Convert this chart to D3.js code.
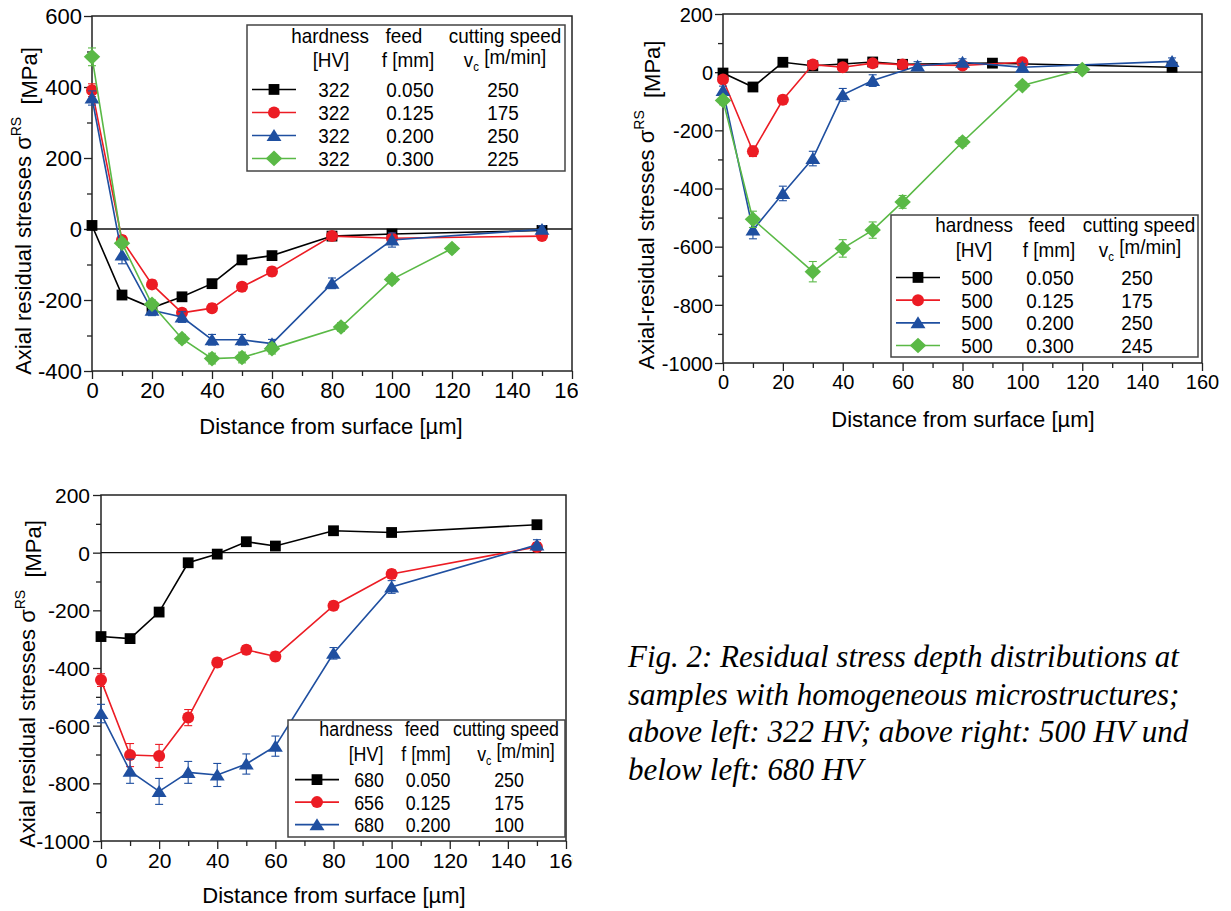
<!DOCTYPE html>
<html><head><meta charset="utf-8">
<script src="https://cdn.jsdelivr.net/npm/d3@7"></script>
<style>
html,body{margin:0;padding:0;background:#fff;}
svg text{font-family:Arial,"Liberation Sans",sans-serif;fill:#000;}
.cap{font-family:"Times New Roman","Liberation Serif",serif;font-style:italic;}
</style></head>
<body>
<svg id="chart" width="1231" height="911"></svg>
<script>
// ---------- data ----------
const seriesColors = ["#000000", "#ec1c24", "#1f4fa0", "#5ab946"];
const seriesShapes = ["square", "circle", "triangle", "diamond"];
const xTickValues = [0, 20, 40, 60, 80, 100, 120, 140, 160];
const p1YTicks = [-400, -200, 0, 200, 400, 600];
const p23YTicks = [-1000, -800, -600, -400, -200, 0, 200];

// Panel 1: 322 HV
const p1Hardness = ["322", "322", "322", "322"];
const p1Feed = ["0.050", "0.125", "0.200", "0.300"];
const p1Speed = ["250", "175", "250", "225"];
const p1DepthA = [0, 10, 20, 30, 40, 50, 60, 80, 100, 150];
const p1StressA = [10, -186, -222, -191, -154, -87, -75, -20, -14, -4];
const p1ErrA = [8, 10, 10, 10, 10, 10, 10, 8, 8, 8];
const p1DepthB = [0, 10, 20, 30, 40, 50, 60, 80, 100, 150];
const p1StressB = [391, -31, -156, -236, -223, -163, -120, -20, -26, -20];
const p1ErrB = [18, 12, 12, 12, 12, 12, 12, 10, 10, 10];
const p1DepthC = [0, 10, 20, 30, 40, 50, 60, 80, 100, 150];
const p1StressC = [369, -73, -229, -248, -312, -312, -323, -153, -31, -1];
const p1ErrC = [20, 25, 15, 15, 15, 15, 12, 15, 20, 10];
const p1DepthD = [0, 10, 20, 30, 40, 50, 60, 83, 100, 120];
const p1StressD = [485, -40, -212, -309, -365, -362, -337, -276, -142, -55];
const p1ErrD = [25, 12, 12, 12, 15, 15, 15, 12, 12, 10];

// Panel 2: 500 HV
const p2Hardness = ["500", "500", "500", "500"];
const p2Feed = ["0.050", "0.125", "0.200", "0.300"];
const p2Speed = ["250", "175", "250", "245"];
const p2DepthA = [0, 10, 20, 30, 40, 50, 60, 90, 150];
const p2StressA = [-3, -51, 34, 22, 28, 35, 27, 31, 17];
const p2ErrA = [10, 12, 10, 10, 10, 10, 10, 10, 10];
const p2DepthB = [0, 10, 20, 30, 40, 50, 60, 80, 100];
const p2StressB = [-25, -272, -95, 26, 17, 31, 26, 23, 34];
const p2ErrB = [12, 18, 15, 12, 12, 12, 12, 12, 12];
const p2DepthC = [0, 10, 20, 30, 40, 50, 65, 80, 100, 150];
const p2StressC = [-63, -543, -417, -297, -78, -29, 21, 34, 17, 37];
const p2ErrC = [15, 30, 25, 25, 22, 20, 15, 12, 12, 12];
const p2DepthD = [0, 10, 30, 40, 50, 60, 80, 100, 120];
const p2StressD = [-97, -506, -686, -606, -543, -446, -240, -46, 9];
const p2ErrD = [15, 28, 35, 30, 28, 22, 15, 12, 12];

// Panel 3: 680 / 656 HV
const p3Hardness = ["680", "656", "680"];
const p3Feed = ["0.050", "0.125", "0.200"];
const p3Speed = ["250", "175", "100"];
const p3DepthA = [0, 10, 20, 30, 40, 50, 60, 80, 100, 150];
const p3StressA = [-291, -298, -206, -35, -5, 38, 23, 76, 70, 97];
const p3ErrA = [10, 10, 10, 10, 10, 10, 10, 10, 10, 10];
const p3DepthB = [0, 10, 20, 30, 40, 50, 60, 80, 100, 150];
const p3StressB = [-442, -702, -705, -572, -381, -337, -360, -184, -74, 20];
const p3ErrB = [22, 40, 40, 28, 15, 15, 15, 15, 15, 15];
const p3DepthC = [0, 10, 20, 30, 40, 50, 60, 80, 100, 150];
const p3StressC = [-558, -758, -828, -762, -771, -733, -671, -349, -119, 27];
const p3ErrC = [32, 42, 45, 38, 40, 35, 35, 20, 22, 18];

const captionLines = [
  "Fig. 2: Residual stress depth distributions at",
  "samples with homogeneous microstructures;",
  "above left: 322 HV; above right: 500 HV und",
  "below left: 680 HV"
];

// ---------- drawing ----------
const svg = d3.select("#chart");
const defs = svg.append("defs");

function symbolPath(shape, s) {
  if (shape === "square") return `M${-s},${-s}H${s}V${s}H${-s}Z`;
  if (shape === "circle") return d3.symbol(d3.symbolCircle, Math.PI * (s + 0.6) * (s + 0.6))();
  if (shape === "triangle") { const h = s * 1.2; return `M0,${-h}L${h * 1.15},${h * 0.85}L${-h * 1.15},${h * 0.85}Z`; }
  if (shape === "diamond") { const h = s * 1.45; return `M0,${-h}L${h * 1.05},0L0,${h}L${-h * 1.05},0Z`; }
}

function drawPanel(cfg) {
  const g = svg.append("g");
  if (cfg.clipX) {
    const id = "clip" + cfg.id;
    defs.append("clipPath").attr("id", id).append("rect")
      .attr("x", 0).attr("y", cfg.top - 30).attr("width", cfg.clipX).attr("height", 480);
    g.attr("clip-path", `url(#${id})`);
  }
  const x = d3.scaleLinear().domain([0, 160]).range([cfg.left, cfg.right]);
  const y = d3.scaleLinear().domain(cfg.yDomain).range([cfg.bottom, cfg.top]);
  const minorX = d3.range(10, 160, 20);
  const minorY = d3.range(cfg.yDomain[0] + 100, cfg.yDomain[1], 200);

  g.append("g").attr("transform", `translate(0,${cfg.bottom})`)
    .call(d3.axisBottom(x).tickValues(minorX).tickSize(5).tickFormat(""))
    .call(a => a.select(".domain").remove());
  g.append("g").attr("transform", `translate(${cfg.left},0)`)
    .call(d3.axisLeft(y).tickValues(minorY).tickSize(5).tickFormat(""))
    .call(a => a.select(".domain").remove());

  const xa = g.append("g").attr("transform", `translate(0,${cfg.bottom})`)
    .call(d3.axisBottom(x).tickValues(xTickValues).tickSize(8).tickFormat(d3.format("d")));
  xa.select(".domain").remove();
  xa.selectAll("text").attr("y", cfg.xLabelOff).attr("dy", 0)
    .style("font-size", cfg.tickFont + "px").attr("fill", "#000");
  const ya = g.append("g").attr("transform", `translate(${cfg.left},0)`)
    .call(d3.axisLeft(y).tickValues(cfg.yTicks).tickSize(8).tickFormat(d => d < 0 ? "-" + Math.abs(d) : d));
  ya.select(".domain").remove();
  ya.selectAll("text").attr("x", -cfg.yLabelOff).attr("dy", "0.36em")
    .style("font-size", cfg.tickFont + "px").attr("fill", "#000");
  g.selectAll(".tick line").attr("stroke", "#222").attr("stroke-width", 1.3);

  g.append("rect").attr("x", cfg.left).attr("y", cfg.top)
    .attr("width", cfg.right - cfg.left).attr("height", cfg.bottom - cfg.top)
    .attr("fill", "none").attr("stroke", "#222").attr("stroke-width", 1.5);
  g.append("line").attr("x1", cfg.left).attr("x2", cfg.right)
    .attr("y1", y(0)).attr("y2", y(0)).attr("stroke", "#111").attr("stroke-width", 1.3);

  cfg.series.forEach((s, i) => {
    const pts = s.x.map((d, k) => ({ x: d, y: s.y[k], e: s.e[k] }));
    const col = seriesColors[i];
    const sg = g.append("g");
    sg.append("path").datum(pts)
      .attr("d", d3.line().x(d => x(d.x)).y(d => y(d.y)))
      .attr("fill", "none").attr("stroke", col).attr("stroke-width", 1.6);
    const eb = sg.selectAll("g.eb").data(pts).join("g").attr("class", "eb");
    eb.append("line").attr("x1", d => x(d.x)).attr("x2", d => x(d.x))
      .attr("y1", d => y(d.y - d.e)).attr("y2", d => y(d.y + d.e))
      .attr("stroke", col).attr("stroke-width", 1.1);
    [-1, 1].forEach(sgn => {
      eb.append("line").attr("x1", d => x(d.x) - 4).attr("x2", d => x(d.x) + 4)
        .attr("y1", d => y(d.y + sgn * d.e)).attr("y2", d => y(d.y + sgn * d.e))
        .attr("stroke", col).attr("stroke-width", 1.1);
    });
    sg.selectAll("path.m").data(pts).join("path").attr("class", "m")
      .attr("d", symbolPath(seriesShapes[i], 5.4))
      .attr("transform", d => `translate(${x(d.x)},${y(d.y)})`)
      .attr("fill", col);
  });

  const L = cfg.legend;
  const lg = g.append("g");
  lg.append("rect").attr("x", L.x0).attr("y", L.y0).attr("width", L.x1 - L.x0).attr("height", L.y1 - L.y0)
    .attr("fill", "#fff").attr("stroke", "#444").attr("stroke-width", 1.5);
  const txt = (t, cx, by) => lg.append("text").attr("text-anchor", "middle")
    .attr("transform", `translate(${cx},${by}) scale(${L.sx},1)`).style("font-size", L.font + "px").text(t);
  txt("hardness", L.cH, L.h1); txt("feed", L.cF, L.h1); txt("cutting speed", L.cS, L.h1);
  txt("[HV]", L.cH2, L.h2); txt("f [mm]", L.cF2, L.h2);
  const vt = lg.append("text").attr("text-anchor", "middle")
    .attr("transform", `translate(${L.cS2},${L.h2}) scale(${L.sx},1)`).style("font-size", L.font + "px");
  vt.append("tspan").text("v");
  vt.append("tspan").attr("dy", "0.35em").style("font-size", (L.font * 0.6) + "px").text("c");
  vt.append("tspan").attr("dy", "-0.35em").text(" [m/min]");
  cfg.hardness.forEach((h, i) => {
    const by = L.r0 + i * L.dr;
    const my = by - L.font * 0.36;
    const col = seriesColors[i];
    lg.append("line").attr("x1", L.sym - 22).attr("x2", L.sym + 22).attr("y1", my).attr("y2", my)
      .attr("stroke", col).attr("stroke-width", 1.6);
    lg.append("path").attr("d", symbolPath(seriesShapes[i], 5.4))
      .attr("transform", `translate(${L.sym},${my})`).attr("fill", col);
    txt(h, L.cH3, by); txt(cfg.feed[i], L.cF3, by); txt(cfg.speed[i], L.cS3, by);
  });

  g.append("text").attr("text-anchor", "middle").attr("x", cfg.xTitleX).attr("y", cfg.xTitleY)
    .style("font-size", "22px").text("Distance from surface [µm]");
  const yt = g.append("text").attr("text-anchor", "middle")
    .attr("transform", `translate(${cfg.yTitleX},${cfg.yTitleY}) rotate(-90)`)
    .style("font-size", "22px").style("white-space", "pre");
  yt.append("tspan").text(cfg.yTitle + " σ");
  yt.append("tspan").attr("dy", "-0.75em").style("font-size", "14px").text("RS");
  yt.append("tspan").attr("dy", "0.75em").text("  [MPa]");
}

drawPanel({
  id: 1, left: 92, right: 572, top: 16, bottom: 371, clipX: 578,
  yDomain: [-400, 600], yTicks: p1YTicks, tickFont: 22, xLabelOff: 27, yLabelOff: 10,
  xTitleX: 331, xTitleY: 434, yTitleX: 31, yTitleY: 211, yTitle: "Axial residual stresses",
  series: [
    { x: p1DepthA, y: p1StressA, e: p1ErrA }, { x: p1DepthB, y: p1StressB, e: p1ErrB },
    { x: p1DepthC, y: p1StressC, e: p1ErrC }, { x: p1DepthD, y: p1StressD, e: p1ErrD }],
  hardness: p1Hardness, feed: p1Feed, speed: p1Speed,
  legend: { x0: 247, x1: 565, y0: 25, y1: 171, font: 21, sx: 0.9,
    cH: 330, cF: 404, cS: 505, h1: 43, cH2: 331, cF2: 408, cS2: 505, h2: 67,
    cH3: 334, cF3: 410, cS3: 503, r0: 97, dr: 23, sym: 274 }
});

drawPanel({
  id: 2, left: 723, right: 1202, top: 14, bottom: 363,
  yDomain: [-1000, 200], yTicks: p23YTicks, tickFont: 20, xLabelOff: 26, yLabelOff: 10,
  xTitleX: 963, xTitleY: 427, yTitleX: 654, yTitleY: 205, yTitle: "Axial-residual stresses",
  series: [
    { x: p2DepthA, y: p2StressA, e: p2ErrA }, { x: p2DepthB, y: p2StressB, e: p2ErrB },
    { x: p2DepthC, y: p2StressC, e: p2ErrC }, { x: p2DepthD, y: p2StressD, e: p2ErrD }],
  hardness: p2Hardness, feed: p2Feed, speed: p2Speed,
  legend: { x0: 891, x1: 1198, y0: 215, y1: 357, font: 21, sx: 0.9,
    cH: 974, cF: 1047, cS: 1139, h1: 232, cH2: 974, cF2: 1049, cS2: 1140, h2: 257,
    cH3: 977, cF3: 1050, cS3: 1137, r0: 285, dr: 22.7, sym: 918 }
});

drawPanel({
  id: 3, left: 101, right: 566, top: 495, bottom: 841, clipX: 573,
  yDomain: [-1000, 200], yTicks: p23YTicks, tickFont: 21, xLabelOff: 27, yLabelOff: 11,
  xTitleX: 334, xTitleY: 903, yTitleX: 35, yTitleY: 684, yTitle: "Axial residual stresses",
  series: [
    { x: p3DepthA, y: p3StressA, e: p3ErrA }, { x: p3DepthB, y: p3StressB, e: p3ErrB },
    { x: p3DepthC, y: p3StressC, e: p3ErrC }],
  hardness: p3Hardness, feed: p3Feed, speed: p3Speed,
  legend: { x0: 288, x1: 565, y0: 720, y1: 837, font: 20.5, sx: 0.87,
    cH: 356, cF: 422, cS: 506, h1: 736, cH2: 366, cF2: 426, cS2: 516, h2: 761,
    cH3: 369, cF3: 428, cS3: 509, r0: 787, dr: 22.5, sym: 317 }
});

// caption
svg.append("g").selectAll("text").data(captionLines).join("text")
  .attr("class", "cap").attr("x", 628).attr("y", (d, i) => 667 + i * 37.7)
  .style("font-size", "31px").text(d => d);
</script>
</body></html>
